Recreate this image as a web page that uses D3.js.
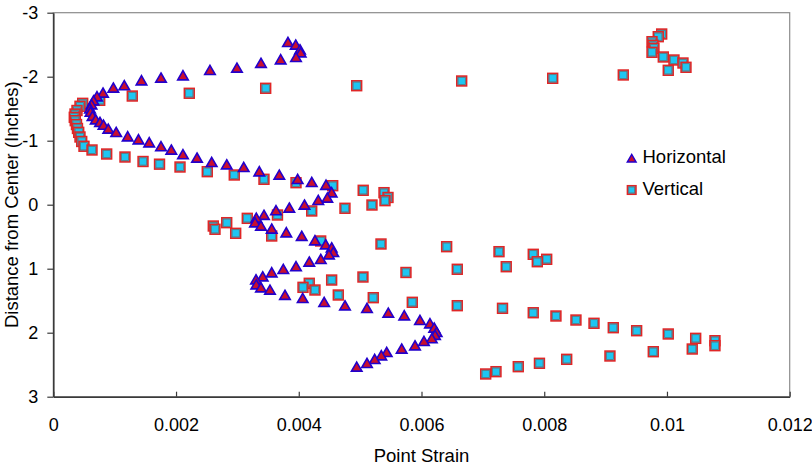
<!DOCTYPE html>
<html>
<head>
<meta charset="utf-8">
<script src="https://cdn.jsdelivr.net/npm/d3@7"></script>
<style>
  html, body { margin: 0; padding: 0; background: #fff; }
  svg { display: block; font-family: "Liberation Sans", Arial, sans-serif; }
</style>
</head>
<body>
<svg id="chart" width="812" height="470"></svg>
<script>
// ---- Data ----
const xTickValues = [0, 0.002, 0.004, 0.006, 0.008, 0.01, 0.012];
const xTickLabels = ["0", "0.002", "0.004", "0.006", "0.008", "0.01", "0.012"];
const yTickValues = [-3, -2, -1, 0, 1, 2, 3];
const yTickLabels = ["-3", "-2", "-1", "0", "1", "2", "3"];
const seriesNames = ["Horizontal", "Vertical"];

// Horizontal series: strain (x) and distance from center (y), in inches
const horizontalStrain = [
  0.003824, 0.003950, 0.004020, 0.004031, 0.003955, 0.003705, 0.003384, 0.002993, 0.002553, 0.002113,
  0.001755, 0.001437, 0.001157, 0.000978, 0.000810, 0.000712, 0.000655, 0.000622, 0.000598, 0.000606,
  0.000639, 0.000691, 0.000761, 0.000818, 0.000896, 0.001025, 0.001212, 0.001388, 0.001563, 0.001755,
  0.001923, 0.002113, 0.002342, 0.002581, 0.002826, 0.003103, 0.003357, 0.003683, 0.003982, 0.004212,
  0.004444, 0.004536, 0.004465, 0.004318, 0.004093, 0.003846, 0.003629, 0.003433, 0.003308, 0.003287,
  0.003384, 0.003559, 0.003797, 0.004048, 0.004264, 0.004439, 0.004536, 0.004563, 0.004492, 0.004359,
  0.004171, 0.003955, 0.003748, 0.003559, 0.003412, 0.003303, 0.003308, 0.003384, 0.003531, 0.003775,
  0.004064, 0.004414, 0.004753, 0.005112, 0.005459, 0.005719, 0.005975, 0.006138, 0.006207, 0.006247,
  0.006220, 0.006168, 0.006040, 0.005894, 0.005677, 0.005433, 0.005345, 0.005237, 0.005112, 0.004944
];
const horizontalDepth = [
  -2.531, -2.491, -2.417, -2.370, -2.297, -2.261, -2.206, -2.131, -2.094, -2.011,
  -1.975, -1.933, -1.855, -1.819, -1.741, -1.683, -1.620, -1.558, -1.495, -1.441,
  -1.378, -1.323, -1.281, -1.238, -1.178, -1.125, -1.058, -1.011, -0.964, -0.902,
  -0.850, -0.777, -0.725, -0.656, -0.620, -0.578, -0.511, -0.459, -0.391, -0.344,
  -0.300, -0.183, -0.100, -0.063, 0.009, 0.056, 0.098, 0.169, 0.213, 0.286,
  0.338, 0.384, 0.442, 0.497, 0.567, 0.630, 0.677, 0.750, 0.786, 0.859,
  0.900, 0.973, 1.016, 1.067, 1.130, 1.177, 1.255, 1.302, 1.338, 1.419,
  1.469, 1.531, 1.583, 1.625, 1.697, 1.739, 1.813, 1.864, 1.931, 2.000,
  2.044, 2.098, 2.141, 2.208, 2.259, 2.313, 2.364, 2.422, 2.484, 2.541
];

// Vertical series
const verticalStrain = [
  0.009914, 0.009858, 0.009756, 0.009772, 0.009788, 0.009756, 0.009940, 0.010114, 0.010261, 0.010310,
  0.010021, 0.009288, 0.008138, 0.006655, 0.004944, 0.003461, 0.002216, 0.001287, 0.000756, 0.000479,
  0.000435, 0.000386, 0.000354, 0.000342, 0.000358, 0.000378, 0.000394, 0.000414, 0.000435, 0.000463,
  0.000500, 0.000631, 0.000870, 0.001168, 0.001462, 0.001731, 0.002065, 0.002509, 0.002949, 0.003433,
  0.003955, 0.004553, 0.005050, 0.005389, 0.005454, 0.005405, 0.005193, 0.004753, 0.004211, 0.003653,
  0.003161, 0.002826, 0.002607, 0.002635, 0.002972, 0.003559, 0.004357, 0.005340, 0.006410, 0.007263,
  0.007821, 0.008040, 0.007887, 0.007381, 0.006583, 0.005747, 0.005046, 0.004536, 0.004171, 0.004069,
  0.004264, 0.004644, 0.005214, 0.005850, 0.006583, 0.007320, 0.007821, 0.008191, 0.008517, 0.008811,
  0.009125, 0.009506, 0.010021, 0.010468, 0.010782, 0.010782, 0.010412, 0.009777, 0.009071, 0.008366,
  0.007922, 0.007577, 0.007214, 0.007046
];
const verticalDepth = [
  -2.667, -2.625, -2.547, -2.491, -2.444, -2.381, -2.308, -2.261, -2.214, -2.147,
  -2.100, -2.027, -1.975, -1.933, -1.859, -1.819, -1.741, -1.698, -1.631, -1.584,
  -1.538, -1.472, -1.417, -1.366, -1.313, -1.253, -1.191, -1.131, -1.058, -0.988,
  -0.913, -0.855, -0.792, -0.745, -0.675, -0.633, -0.589, -0.516, -0.464, -0.397,
  -0.344, -0.297, -0.225, -0.188, -0.113, -0.063, 0.005, 0.056, 0.098, 0.161,
  0.213, 0.281, 0.333, 0.384, 0.447, 0.489, 0.567, 0.614, 0.656, 0.734,
  0.775, 0.853, 0.891, 0.969, 1.009, 1.059, 1.130, 1.177, 1.228, 1.291,
  1.333, 1.411, 1.453, 1.525, 1.578, 1.619, 1.688, 1.739, 1.802, 1.853,
  1.922, 1.969, 2.020, 2.088, 2.125, 2.203, 2.255, 2.297, 2.364, 2.416,
  2.478, 2.531, 2.609, 2.645
];

// ---- Layout ----
const plot = { left: 53.3, right: 789.7, top: 12.7, bottom: 396.7 };

const svg = d3.select("#chart");
const x = d3.scaleLinear().domain([0, 0.012]).range([plot.left, plot.right]);
const y = d3.scaleLinear().domain([-3, 3]).range([plot.top, plot.bottom]);

// plot-area border (top & right gray)
svg.append("rect")
  .attr("x", plot.left).attr("y", plot.top)
  .attr("width", plot.right - plot.left).attr("height", plot.bottom - plot.top)
  .attr("fill", "none").attr("stroke", "#8c8c8c").attr("stroke-width", 1.2);

// X axis (ticks pointing inward)
const xAxis = d3.axisBottom(x)
  .tickValues(xTickValues)
  .tickFormat((d, i) => xTickLabels[i])
  .tickSizeInner(-5).tickSizeOuter(0).tickPadding(22);
const gx = svg.append("g").attr("transform", `translate(0,${plot.bottom})`).call(xAxis);
gx.select(".domain").attr("stroke", "#3a3a3a").attr("stroke-width", 1.6);
gx.selectAll(".tick line").attr("stroke", "#3a3a3a").attr("stroke-width", 1.2);
gx.selectAll(".tick text").attr("font-size", 18).attr("fill", "#000")
  .attr("font-family", "Liberation Sans, Arial, sans-serif");

// Y axis (ticks pointing outward)
const yAxis = d3.axisLeft(y)
  .tickValues(yTickValues)
  .tickFormat((d, i) => yTickLabels[i])
  .tickSizeInner(6).tickSizeOuter(0).tickPadding(9);
const gy = svg.append("g").attr("transform", `translate(${plot.left},0)`).call(yAxis);
gy.select(".domain").attr("stroke", "#3a3a3a").attr("stroke-width", 1.6);
gy.selectAll(".tick line").attr("stroke", "#3a3a3a").attr("stroke-width", 1.2);
gy.selectAll(".tick text").attr("font-size", 18).attr("fill", "#000")
  .attr("font-family", "Liberation Sans, Arial, sans-serif");

// Axis titles
svg.append("text")
  .attr("x", (plot.left + plot.right) / 2).attr("y", 462)
  .attr("text-anchor", "middle").attr("font-size", 18.5).attr("fill", "#000")
  .text("Point Strain");
svg.append("text")
  .attr("transform", `translate(17.5,${y(0)}) rotate(-90)`)
  .attr("text-anchor", "middle").attr("font-size", 18.5).attr("fill", "#000")
  .text("Distance from Center (Inches)");

// Markers
const triSym = d3.symbol().type(d3.symbolTriangle).size(48);
const triColors = { fill: "#c8102e", stroke: "#2200cc" };
const sqColors = { fill: "#1ec6f2", stroke: "#e02626", inner: "#6a6a6a" };

function drawSquare(g, cx, cy, s) {
  g.append("rect").attr("x", cx - s / 2).attr("y", cy - s / 2)
    .attr("width", s).attr("height", s)
    .attr("fill", sqColors.fill).attr("stroke", sqColors.stroke).attr("stroke-width", 1.6);
  g.append("rect").attr("x", cx - s / 2 + 1.3).attr("y", cy - s / 2 + 1.3)
    .attr("width", s - 2.6).attr("height", s - 2.6)
    .attr("fill", "none").attr("stroke", sqColors.inner).attr("stroke-width", 0.7);
}

// Vertical squares
const gv = svg.append("g");
verticalStrain.forEach((v, i) => {
  drawSquare(gv, x(v), y(verticalDepth[i]), 9.8);
});

// Horizontal triangles
const gh = svg.append("g");
gh.selectAll("path").data(horizontalStrain).join("path")
  .attr("d", triSym)
  .attr("transform", (d, i) => `translate(${x(d)},${y(horizontalDepth[i]) + 0.8})`)
  .attr("fill", triColors.fill).attr("stroke", triColors.stroke).attr("stroke-width", 1.6);

// Legend
const lg = svg.append("g");
lg.append("path").attr("d", d3.symbol().type(d3.symbolTriangle).size(34)())
  .attr("transform", "translate(631.7,159.5)")
  .attr("fill", triColors.fill).attr("stroke", triColors.stroke).attr("stroke-width", 1.4);
lg.append("text").attr("x", 642.5).attr("y", 163).attr("font-size", 18.5).attr("fill", "#000")
  .text(seriesNames[0]);
drawSquare(lg, 631.7, 190, 8.5);
lg.append("text").attr("x", 642.5).attr("y", 195).attr("font-size", 18.5).attr("fill", "#000")
  .text(seriesNames[1]);
</script>
</body>
</html>
